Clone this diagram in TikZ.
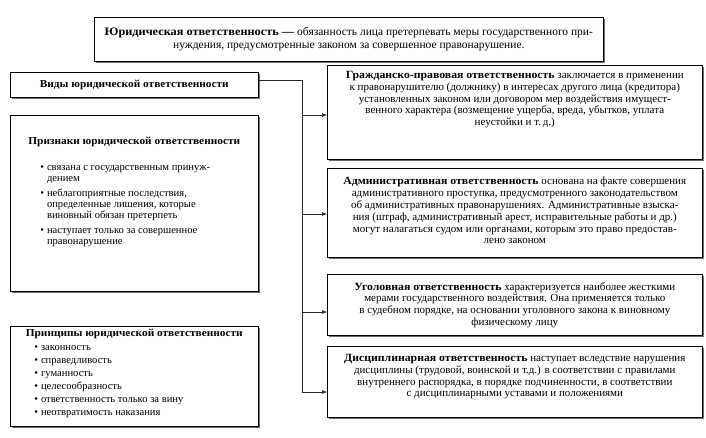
\documentclass[tikz,border=0pt]{standalone}
\usepackage{fontspec}
\setmainfont{Liberation Serif}[BoldFeatures={FakeStretch=1.07}]
\usetikzlibrary{arrows.meta, positioning, calc, shadows}
\definecolor{shadowgray}{RGB}{110,110,110}

\begin{document}
\begin{tikzpicture}[
  x=1pt, y=-1pt,
  box/.style={draw, line width=0.6pt, fill=white, anchor=north west,
              inner sep=0pt, align=center,
              font=\fontsize{10.6}{11.8}\selectfont,
              drop shadow={shadow xshift=1.2pt, shadow yshift=-1.2pt,
                           fill=shadowgray, opacity=1}},
  kind/.style={box, font=\fontsize{11}{11.8}\selectfont},
  link/.style={line width=0.6pt, black!85},
  arr/.style={link, -{Latex[length=5pt, width=4pt]}}
]
\useasboundingbox (0,0) rectangle (706,437);

% definition on top
\node[box, minimum width=509pt, minimum height=44pt,
      font=\fontsize{11.5}{13}\selectfont] (defn) at (94,17)
  {\textbf{Юридическая ответственность —} обязанность лица претерпевать меры государственного при-\\
   нуждения, предусмотренные законом за совершенное правонарушение.};

% left column
\node[box, minimum width=248pt, minimum height=25pt] (vidy) at (10,72)
  {\textbf{Виды юридической ответственности}};
\node[box, font=\fontsize{10.6}{11}\selectfont] (priznaki) at (10,115)
  {\parbox[c][176pt][t]{248pt}{\vspace*{22pt}\centering
   \textbf{Признаки юридической ответственности}\par\vspace{15pt}
   \raggedright\hspace*{30pt}\begin{tabular}{@{}l@{\hspace{3pt}}l@{}}
   \textbullet & связана с государственным принуж-\\
   & дением\\[4pt]
   \textbullet & неблагоприятные последствия,\\
   & определенные лишения, которые\\
   & виновный обязан претерпеть\\[4pt]
   \textbullet & наступает только за совершенное\\
   & правонарушение
   \end{tabular}}};
\node[box, font=\fontsize{10.6}{11.5}\selectfont] (printsipy) at (10,326)
  {\parbox[c][100pt][t]{248pt}{\vspace*{3pt}\centering
   \textbf{Принципы юридической ответственности}\par\vspace{3pt}
   \raggedright\hspace*{24pt}\begin{tabular}{@{}l@{\hspace{3pt}}l@{}}
   \textbullet & законность\\[1.5pt]
   \textbullet & справедливость\\[1.5pt]
   \textbullet & гуманность\\[1.5pt]
   \textbullet & целесообразность\\[1.5pt]
   \textbullet & ответственность только за вину\\[1.5pt]
   \textbullet & неотвратимость наказания
   \end{tabular}}};

% right column
\node[kind] (grazhd) at (327,65)
  {\parbox[c][94pt][t]{375pt}{\vspace*{6pt}\centering
   \textbf{Гражданско-правовая ответственность} заключается в применении\\
   к правонарушителю (должнику) в интересах другого лица (кредитора)\\
   установленных законом или договором мер воздействия имущест-\\
   венного характера (возмещение ущерба, вреда, убытков, уплата\\
   неустойки и т.\,д.)}};
\node[kind] (admin) at (327,168)
  {\parbox[c][89pt][t]{375pt}{\vspace*{9pt}\centering
   \textbf{Административная ответственность} основана на факте совершения\\
   административного проступка, предусмотренного законодательством\\
   об административных правонарушениях. Административные взыска-\\
   ния (штраф, административный арест, исправительные работы и др.)\\
   могут налагаться судом или органами, которым это право предостав-\\
   лено законом}};
\node[kind] (ugol) at (327,274)
  {\parbox[c][61pt][t]{375pt}{\vspace*{8pt}\centering
   \textbf{Уголовная ответственность} характеризуется наиболее жесткими\\
   мерами государственного воздействия. Она применяется только\\
   в судебном порядке, на основании уголовного закона к виновному\\
   физическому лицу}};
\node[kind] (disc) at (327,346)
  {\parbox[c][71pt][t]{375pt}{\vspace*{8pt}\centering
   \textbf{Дисциплинарная ответственность} наступает вследствие нарушения\\
   дисциплины (трудовой, воинской и т.д.) в соответствии с правилами\\
   внутреннего распорядка, в порядке подчиненности, в соответствии\\
   с дисциплинарными уставами и положениями}};

% bus and arrows
\coordinate (bustop) at (302,80);
\coordinate (b1) at (302,115);
\coordinate (b2) at (302,214);
\coordinate (b3) at (302,312);
\coordinate (b4) at (302,392);
\draw[link] (vidy.east |- bustop) -- (bustop) -- (b4);
\draw[arr] (b1) -- (b1 -| grazhd.west);
\draw[arr] (b2) -- (b2 -| admin.west);
\draw[arr] (b3) -- (b3 -| ugol.west);
\draw[arr] (b4) -- (b4 -| disc.west);
\end{tikzpicture}
\end{document}
